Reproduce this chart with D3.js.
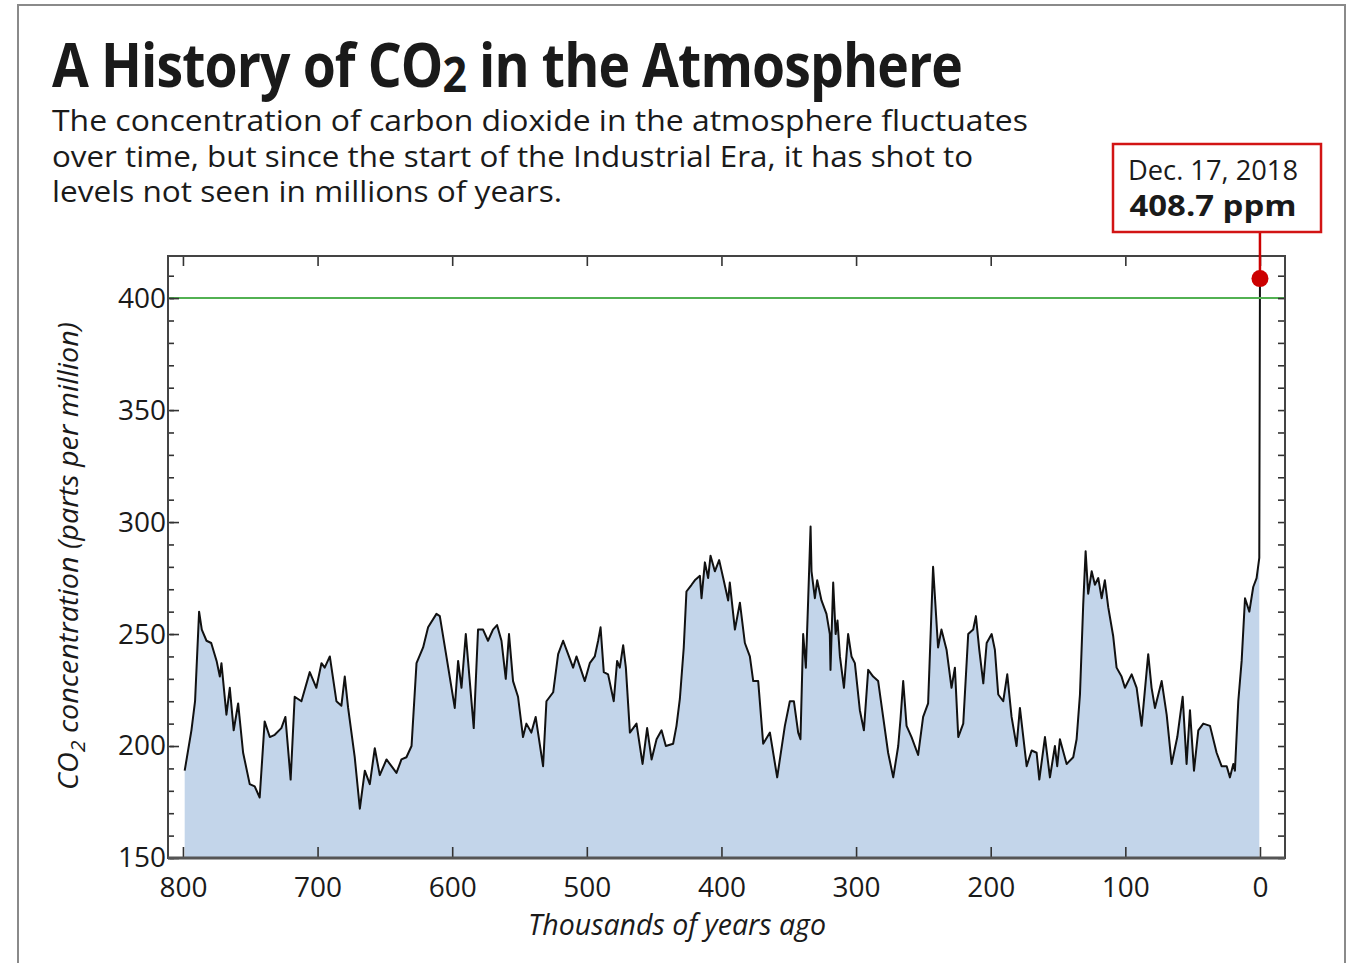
<!DOCTYPE html>
<html>
<head>
<meta charset="utf-8">
<script src="https://cdn.jsdelivr.net/npm/d3@7"></script>
<style>
  body { margin: 0; background: #fff; }
  svg { display: block; }
  text { font-family: "Open Sans", "DejaVu Sans", sans-serif; fill: #1a1a1a; }
</style>
</head>
<body>
<svg id="chart"></svg>
<script>
// ice core record, thousands of years ago
var kyrAgo = [798.7, 793.7, 791, 788, 786, 782.5, 779, 775, 772.6, 771.4, 767.7, 765.2, 762.3, 759, 755.3, 750.4, 746.7, 743, 739.3, 735.5,
  731.8, 726.9, 723.9, 720, 717, 712, 705.8, 700.9, 697.1, 694.7, 690.9, 686, 682.3, 679.8, 677.3, 672.4, 668.6, 664.9, 661.2, 657.5,
  653.8, 648.8, 645.1, 641.4, 637.7, 634, 630.2, 626.5, 621.6, 617.9, 611.7, 609.2, 604.3, 598.1, 595.6, 593.1, 589.9, 584, 580.8, 577.1,
  573.4, 569.7, 566.7, 563.4, 560.2, 557.8, 554.8, 551.1, 547.4, 544.9, 541.2, 538, 532.5, 530, 525, 521.3, 517.6, 513.9, 510.2, 507.7,
  501.5, 497.8, 494.1, 491.6, 489.8, 487.4, 484.2, 480, 477.5, 475.5, 473, 471, 468, 463.1, 458.6, 455.2, 451.9, 448.2, 444.5, 441.3,
  435.9, 433.4, 430.9, 428, 426, 422.2, 419.8, 416, 414.8, 412.3, 409.9, 408.1, 404.9, 401.7, 398.7, 395, 393.8, 390, 386.3, 382.6,
  378.9, 376.4, 372.7, 369, 364, 358.6, 352.9, 349.2, 346.2, 343, 341.3, 339.3, 337.3, 335.6, 333.8, 333.1, 330.6, 328.9, 325.7, 322,
  319.5, 319, 317, 315.2, 313.8, 312, 309, 305.9, 303.4, 300.9, 297.2, 294.2, 291, 287.3, 283.6, 279.9, 276.2, 272.4, 268.7, 267,
  265, 262.5, 258.8, 253.9, 250.2, 246.5, 242.8, 239.1, 236.6, 232.8, 229.1, 226.6, 224.1, 220.4, 216.7, 213, 211, 208.5, 205.5, 203,
  199.3, 196.9, 194.4, 190.7, 187.7, 184.5, 180.8, 178.3, 173.3, 169.6, 165.9, 163.9, 159.7, 156, 152.3, 150.6, 148.6, 143.6, 138.7, 136.2,
  133.7, 131.3, 129.5, 127.6, 125, 122.6, 120.1, 117.6, 115.2, 112.7, 109, 106.5, 102.8, 100.3, 95.3, 91.6, 87.9, 83, 80.5, 78,
  73, 69.3, 65.6, 61.4, 57.4, 54.5, 52, 49, 45.8, 42.1, 37.1, 32.2, 28.5, 24.7, 22.3, 19.8, 18.6, 16.1, 13.6, 11.1,
  7.9, 5, 2.5, 0.5];
// CO2 in ppm, same order
var co2ppm = [189, 207, 220, 260, 252, 247, 246, 238, 231, 237, 214, 226, 207, 219, 197, 183, 182, 177, 211, 204,
  205, 208, 213, 185, 222, 220, 233, 226, 237, 235, 240, 220, 218, 231, 217, 195, 172, 189, 183, 199,
  187, 194, 191, 188, 194, 195, 200, 237, 244, 253, 259, 258, 240, 217, 238, 226, 250, 208, 252, 252,
  247, 252, 254, 247, 230, 250, 229, 222, 204, 210, 206, 213, 191, 220, 224, 241, 247, 241, 235, 240,
  229, 237, 240, 247, 253, 233, 232, 220, 238, 235, 245, 235, 206, 210, 192, 208, 194, 203, 207, 200,
  201, 209, 221, 244, 269, 272, 274, 276, 266, 282, 275, 285, 278, 283, 275, 265, 273, 252, 264, 246,
  240, 229, 229, 201, 206, 186, 209, 220, 220, 206, 203, 250, 235, 265, 298, 278, 266, 274, 265, 259,
  250, 234, 273, 250, 256, 240, 226, 250, 240, 237, 216, 207, 234, 231, 229, 213, 197, 186, 200, 212,
  229, 209, 204, 196, 213, 219, 280, 244, 252, 243, 226, 235, 204, 210, 250, 252, 258, 243, 228, 246,
  250, 243, 223, 220, 232, 213, 200, 217, 191, 198, 197, 185, 204, 186, 200, 191, 203, 192, 195, 203,
  223, 263, 287, 268, 278, 272, 275, 266, 274, 262, 249, 235, 231, 226, 232, 226, 209, 241, 226, 217,
  229, 214, 192, 204, 222, 192, 216, 189, 207, 210, 209, 197, 191, 191, 186, 192, 189, 220, 238, 266,
  260, 271, 275, 284];
// modern measurement
var modernKyr = [0];
var modernPpm = [408.7];
var modernDate = ["Dec. 17, 2018"];

var xTicks = [800, 700, 600, 500, 400, 300, 200, 100, 0];
var yTicks = [150, 200, 250, 300, 350, 400];
var yMinor = d3.range(150, 420, 10);
var refLine = [400];

var W = 1358, H = 963;
var svg = d3.select('#chart').attr('width', W).attr('height', H);

// outer border
svg.append('rect')
  .attr('x', 18).attr('y', 5).attr('width', 1327).attr('height', 970)
  .attr('fill', 'none').attr('stroke', '#8a8a8a').attr('stroke-width', 2);

// plot box
var pLeft = 168, pRight = 1285, pTop = 256, pBottom = 858;
var x = d3.scaleLinear().domain([811.1, -18.6]).range([pLeft, pRight]);
var y = d3.scaleLinear().domain([150, 418.8]).range([pBottom, pTop]);

var iceCore = kyrAgo.map(function(k, i){ return {t: k, v: co2ppm[i]}; });
var fullLine = iceCore.concat(modernKyr.map(function(k, i){ return {t: k, v: modernPpm[i]}; }));

var area = d3.area()
  .x(function(d){ return x(d.t); })
  .y0(y(150))
  .y1(function(d){ return y(d.v); });
svg.append('path').datum(iceCore)
  .attr('d', area)
  .attr('fill', '#c3d5ea');

svg.append('path').datum(fullLine)
  .attr('d', d3.line().x(function(d){ return x(d.t); }).y(function(d){ return y(d.v); }))
  .attr('fill', 'none')
  .attr('stroke', '#111')
  .attr('stroke-width', 2)
  .attr('stroke-linejoin', 'round');

// 400 ppm line
svg.selectAll('.ref').data(refLine).join('line')
  .attr('x1', pLeft).attr('x2', pRight)
  .attr('y1', function(d){ return y(d); }).attr('y2', function(d){ return y(d); })
  .attr('stroke', '#52b152').attr('stroke-width', 2);

// axes
function styleAxis(g){
  g.select('.domain').remove();
  g.selectAll('.tick line').attr('stroke', '#333').attr('stroke-width', 1.6);
  g.selectAll('.tick text').style('font-size', '28px').attr('fill', '#1a1a1a');
}
svg.append('g').attr('transform', 'translate(' + pLeft + ',0)')
  .call(d3.axisLeft(y).tickValues(yMinor).tickSize(-6).tickFormat(''))
  .call(styleAxis);
svg.append('g').attr('transform', 'translate(' + pLeft + ',0)')
  .call(d3.axisLeft(y).tickValues(yTicks).tickSize(-11).tickPadding(2).tickFormat(d3.format('d')))
  .call(styleAxis)
  .call(function(g){ g.selectAll('.tick line').attr('x1', 2); });
svg.append('g').attr('transform', 'translate(' + pRight + ',0)')
  .call(d3.axisRight(y).tickValues(yMinor).tickSize(-7).tickFormat(''))
  .call(styleAxis);
svg.append('g').attr('transform', 'translate(0,' + pBottom + ')')
  .call(d3.axisBottom(x).tickValues(xTicks).tickSize(-11).tickPadding(19).tickFormat(d3.format('d')))
  .call(styleAxis);
svg.append('g').attr('transform', 'translate(0,' + pTop + ')')
  .call(d3.axisTop(x).tickValues(xTicks).tickSize(-10).tickFormat(''))
  .call(styleAxis);

svg.append('rect')
  .attr('x', pLeft).attr('y', pTop).attr('width', pRight - pLeft).attr('height', pBottom - pTop)
  .attr('fill', 'none').attr('stroke', '#444').attr('stroke-width', 2);
svg.append('line')
  .attr('x1', pLeft).attr('x2', pRight).attr('y1', pBottom).attr('y2', pBottom)
  .attr('stroke', '#555').attr('stroke-width', 3);

// axis titles
svg.append('text')
  .attr('x', 677).attr('y', 935)
  .attr('text-anchor', 'middle')
  .attr('textLength', 298).attr('lengthAdjust', 'spacingAndGlyphs')
  .style('font-size', '29px').style('font-style', 'italic')
  .text('Thousands of years ago');

var yt = svg.append('text')
  .attr('transform', 'translate(78,556) rotate(-90)')
  .attr('text-anchor', 'middle')
  .attr('textLength', 468).attr('lengthAdjust', 'spacingAndGlyphs')
  .style('font-size', '27px').style('font-style', 'italic');
yt.append('tspan').text('CO');
yt.append('tspan').attr('dy', 7).style('font-size', '20px').text('2');
yt.append('tspan').attr('dy', -7).text(' concentration (parts per million)');

// title and intro
var title = svg.append('text')
  .attr('x', 52).attr('y', 87)
  .attr('textLength', 910).attr('lengthAdjust', 'spacingAndGlyphs')
  .style('font-size', '60px').style('font-weight', 'bold').style('letter-spacing', '-1px');
title.append('tspan').text('A History of CO');
title.append('tspan').attr('dy', 5).style('font-size', '48px').text('2');
title.append('tspan').attr('dy', -5).text(' in the Atmosphere');

var intro = [
  {t: 'The concentration of carbon dioxide in the atmosphere fluctuates', w: 976, y: 131},
  {t: 'over time, but since the start of the Industrial Era, it has shot to', w: 921, y: 167},
  {t: 'levels not seen in millions of years.', w: 510, y: 202}
];
svg.selectAll('.intro').data(intro).join('text')
  .attr('class', 'intro')
  .attr('x', 52).attr('y', function(d){ return d.y; })
  .attr('textLength', function(d){ return d.w; }).attr('lengthAdjust', 'spacingAndGlyphs')
  .style('font-size', '29px')
  .text(function(d){ return d.t; });

// annotation for the latest reading
var last = {t: modernKyr[0], v: modernPpm[0]};
svg.append('line')
  .attr('x1', x(last.t)).attr('x2', x(last.t))
  .attr('y1', 232).attr('y2', y(last.v))
  .attr('stroke', '#cc0000').attr('stroke-width', 2.5);
svg.append('circle')
  .attr('cx', x(last.t)).attr('cy', y(last.v)).attr('r', 8.5)
  .attr('fill', '#cc0000');
svg.append('rect')
  .attr('x', 1113).attr('y', 144).attr('width', 208).attr('height', 88)
  .attr('fill', '#fff').attr('stroke', '#d21414').attr('stroke-width', 2.5);
svg.append('text')
  .attr('x', 1213).attr('y', 180).attr('text-anchor', 'middle')
  .attr('textLength', 170).attr('lengthAdjust', 'spacingAndGlyphs')
  .style('font-size', '27px')
  .text(modernDate[0]);
svg.append('text')
  .attr('x', 1213).attr('y', 216).attr('text-anchor', 'middle')
  .attr('textLength', 167).attr('lengthAdjust', 'spacingAndGlyphs')
  .style('font-size', '29px').style('font-weight', 'bold')
  .text(d3.format('.1f')(last.v) + ' ppm');
</script>
</body>
</html>
